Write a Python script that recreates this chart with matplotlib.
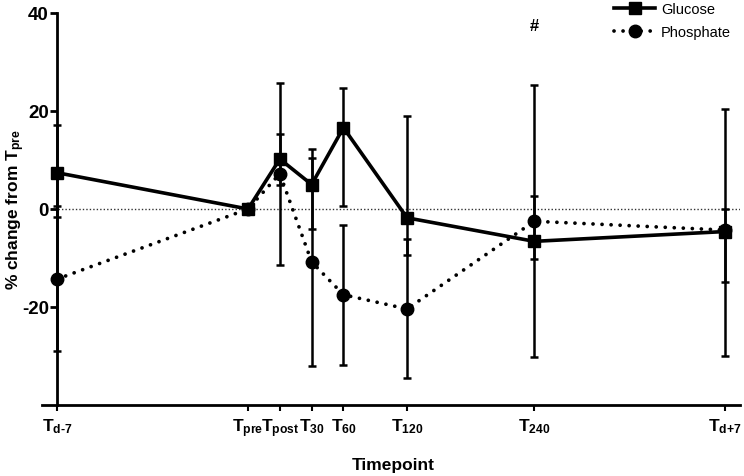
import matplotlib
matplotlib.use("Agg")
import matplotlib.pyplot as plt
import numpy as np
from matplotlib.lines import Line2D

plt.rcParams['font.family'] = ['Liberation Sans', 'DejaVu Sans']
plt.rcParams['font.weight'] = 'bold'
plt.rcParams['mathtext.fontset'] = 'custom'
plt.rcParams['mathtext.rm'] = 'Liberation Sans:bold'
plt.rcParams['mathtext.bf'] = 'Liberation Sans:bold'
plt.rcParams['mathtext.it'] = 'Liberation Sans:bold'
plt.rcParams['mathtext.sf'] = 'Liberation Sans:bold'
plt.rcParams['mathtext.default'] = 'rm'

# Data
timepoints = [-180, 0, 30, 60, 90, 150, 270, 450]
tick_labels = [r'T$_{\text{d-7}}$', r'T$_{\text{pre}}$', r'T$_{\text{post}}$', r'T$_{30}$',
               r'T$_{60}$', r'T$_{120}$', r'T$_{240}$', r'T$_{\text{d+7}}$']
y_ticks = [-20, 0, 20, 40]

glucose = [7.4, 0.0, 10.2, 5.0, 16.6, -1.8, -6.6, -4.6]
glucose_upper = [17.2, 0.0, 15.3, 12.3, 24.6, 18.9, 2.7, 20.5]
glucose_lower = [-1.6, 0.0, 5.0, -4.1, 0.7, -9.3, -10.2, -30.0]

phosphate = [-14.3, 0.0, 7.2, -10.8, -17.5, -20.4, -2.5, -4.3]
phosphate_upper = [0.7, 0.0, 25.8, 10.4, -3.2, -6.1, 25.4, 0.0]
phosphate_lower = [-29.0, 0.0, -11.5, -32.0, -31.9, -34.4, -30.3, -14.8]

g = np.array(glucose); p = np.array(phosphate)
g_err = [g - np.array(glucose_lower), np.array(glucose_upper) - g]
p_err = [p - np.array(phosphate_lower), np.array(phosphate_upper) - p]

dot_style = (0, (0.01, 2.4))

fig = plt.figure(figsize=(7.44, 4.77), dpi=100)
ax = fig.add_axes([42/744, 1 - 406/477, (740-42)/744, (406-14)/477])

ax.axhline(0, color='#333333', lw=1.0, ls=(0, (1, 1.5)), zorder=1,
           xmin=(58-42)/(740-42), xmax=1)

ax.errorbar(timepoints, phosphate, yerr=p_err, color='black', lw=2.7,
            ls=dot_style, dash_capstyle='round', marker='o', ms=9,
            ecolor='black', elinewidth=1.8, capsize=3, capthick=1.8, zorder=3)
ax.errorbar(timepoints, glucose, yerr=g_err, color='black', lw=2.6, ls='-',
            marker='s', ms=8.5, ecolor='black', elinewidth=1.8, capsize=3,
            capthick=1.8, zorder=4)

ax.set_xlim(-194.3, 464)
ax.set_ylim(-40, 40)
ax.set_yticks(y_ticks)
ax.set_yticklabels([str(v) for v in y_ticks])
ax.set_xticks(timepoints)
ax.set_xticklabels(tick_labels)

for s in ['top', 'right']:
    ax.spines[s].set_visible(False)
ax.spines['left'].set_position(('data', -180))
ax.spines['left'].set_linewidth(2)
ax.spines['bottom'].set_linewidth(2)
ax.tick_params(axis='y', length=5, width=2, pad=1, labelsize=13.5)
ax.tick_params(axis='x', length=4, width=1.5, pad=4, labelsize=12.5)
for lbl in ax.get_yticklabels() + ax.get_xticklabels():
    lbl.set_fontweight('bold')

ax.text(270, 37.5, '#', ha='center', va='center', fontsize=12, fontweight='bold')

fig.text(393/744, 1 - 466/477, 'Timepoint', ha='center', va='center',
         fontsize=12.5, fontweight='bold')
fig.text(16/744, 1 - 210/477, r'% change from T$_{\text{pre}}$', ha='center', va='center',
         rotation=90, fontsize=12.5, fontweight='bold')

handles = [Line2D([], [], color='black', lw=2.6, marker='s', ms=8.5),
           Line2D([], [], color='black', lw=2.7, ls=dot_style,
                  dash_capstyle='round', marker='o', ms=9)]
leg = fig.legend(handles, ['Glucose', 'Phosphate'], loc='upper left',
                 bbox_to_anchor=(607/744, 1 + 4/477), frameon=False,
                 prop={'size': 10.5, 'weight': 'normal'}, handlelength=2.8,
                 numpoints=1, borderpad=0, labelspacing=0.6, handletextpad=0.4)

fig.savefig('out.png', dpi=100)
